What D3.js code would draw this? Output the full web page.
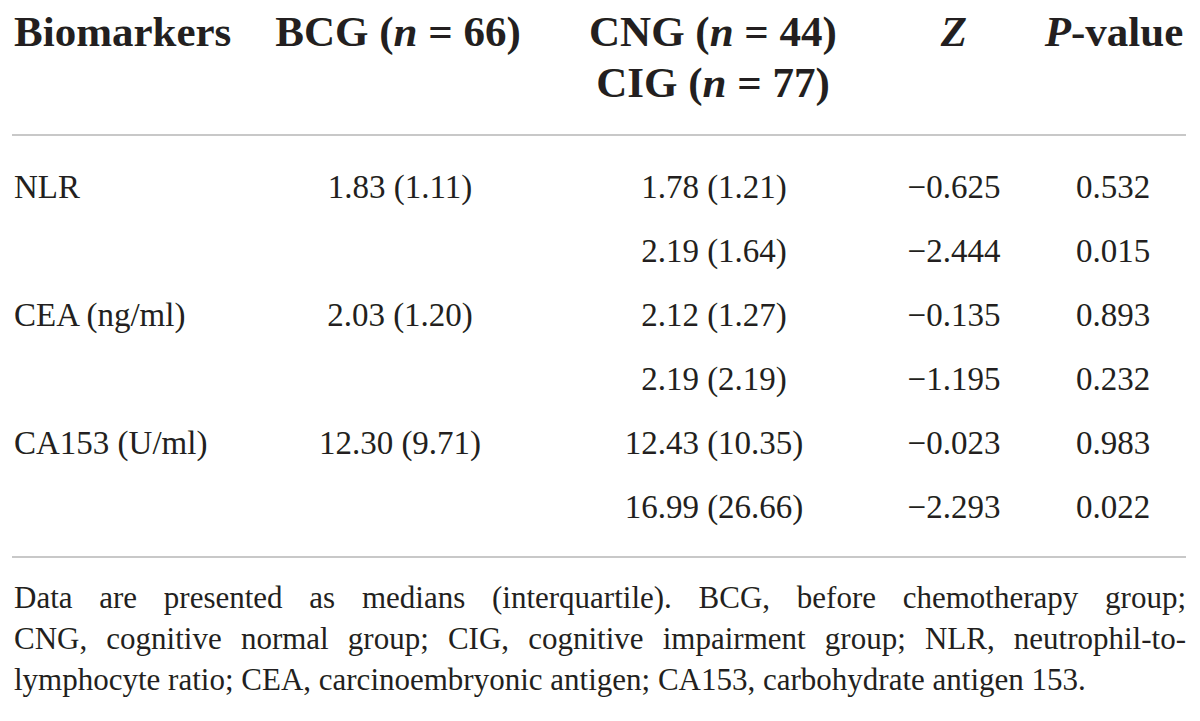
<!DOCTYPE html>
<html><head><meta charset="utf-8">
<script src="https://cdn.jsdelivr.net/npm/d3@7"></script>
<style>
html,body{margin:0;padding:0;background:#fff;}
svg{display:block;}
</style></head>
<body>
<svg id="chart" width="1200" height="721"></svg>
<script>
// ---- data ----
const biomarkers = ["NLR", "CEA (ng/ml)", "CA153 (U/ml)"];
const bcgValues = ["1.83 (1.11)", "2.03 (1.20)", "12.30 (9.71)"];
const groupValues = ["1.78 (1.21)", "2.19 (1.64)", "2.12 (1.27)", "2.19 (2.19)", "12.43 (10.35)", "16.99 (26.66)"];
const zValues = ["\u22120.625", "\u22122.444", "\u22120.135", "\u22121.195", "\u22120.023", "\u22122.293"];
const pValues = ["0.532", "0.015", "0.893", "0.232", "0.983", "0.022"];
const footnote = [
  "Data are presented as medians (interquartile). BCG, before chemotherapy group;",
  "CNG, cognitive normal group; CIG, cognitive impairment group; NLR, neutrophil-to-",
  "lymphocyte ratio; CEA, carcinoembryonic antigen; CA153, carbohydrate antigen 153."
];

const svg = d3.select("#chart");
const FONT = "'Liberation Serif', 'DejaVu Serif', serif";
const ink = "#231f20";
const ruleColor = "#c8c8c8";

const left = 14, right = 1186;
const colX = d3.scaleOrdinal().domain(["bio","bcg","grp","z","p"]).range([left, 400, 714, 954, 1113]);
const rowY = d3.scaleLinear().domain([0, 5]).range([198, 518]);

// header
const hdr = svg.append("g").attr("font-family", FONT).attr("font-weight", "bold").attr("font-size", 43).attr("fill", ink);
hdr.append("text").attr("x", colX("bio")).attr("y", 46).text("Biomarkers");
function nHeader(x, y, label, n, anchor) {
  const t = hdr.append("text").attr("x", x).attr("y", y).attr("text-anchor", anchor || "middle");
  t.append("tspan").text(label + " (");
  t.append("tspan").attr("font-style", "italic").text("n");
  t.append("tspan").text(" = " + n + ")");
}
nHeader(398, 46, "BCG", 66);
nHeader(colX("grp") - 1, 46, "CNG", 44);
nHeader(colX("grp") - 1, 97, "CIG", 77);
hdr.append("text").attr("x", colX("z")).attr("y", 46).attr("text-anchor", "middle").attr("font-style", "italic").text("Z");
const ph = hdr.append("text").attr("x", 1114).attr("y", 46).attr("text-anchor", "middle");
ph.append("tspan").attr("font-style", "italic").text("P");
ph.append("tspan").text("-value");

// rules
svg.append("line").attr("x1", left - 2).attr("x2", right).attr("y1", 135).attr("y2", 135).attr("stroke", ruleColor).attr("stroke-width", 2);
svg.append("line").attr("x1", left - 2).attr("x2", right).attr("y1", 557).attr("y2", 557).attr("stroke", ruleColor).attr("stroke-width", 2);

// body
const body = svg.append("g").attr("font-family", FONT).attr("font-size", 33).attr("fill", ink);
body.selectAll(".bio").data(biomarkers).join("text").attr("class", "bio")
  .attr("x", colX("bio")).attr("y", (d, i) => rowY(i * 2)).text(d => d);
body.selectAll(".bcg").data(bcgValues).join("text").attr("class", "bcg")
  .attr("x", colX("bcg")).attr("y", (d, i) => rowY(i * 2)).attr("text-anchor", "middle").text(d => d);
body.selectAll(".grp").data(groupValues).join("text").attr("class", "grp")
  .attr("x", colX("grp")).attr("y", (d, i) => rowY(i)).attr("text-anchor", "middle").text(d => d);
body.selectAll(".zv").data(zValues).join("text").attr("class", "zv")
  .attr("x", colX("z")).attr("y", (d, i) => rowY(i)).attr("text-anchor", "middle").text(d => d);
body.selectAll(".pv").data(pValues).join("text").attr("class", "pv")
  .attr("x", colX("p")).attr("y", (d, i) => rowY(i)).attr("text-anchor", "middle").text(d => d);

// footnote (justified first two lines)
const foot = svg.append("g").attr("font-family", FONT).attr("font-size", 31).attr("fill", ink);
const footY = d3.scaleLinear().domain([0, 2]).range([608, 690]);
footnote.forEach((line, li) => {
  const y = footY(li);
  if (li === footnote.length - 1) {
    foot.append("text").attr("x", left).attr("y", y).text(line);
    return;
  }
  const words = line.split(" ");
  const tmp = foot.append("text").attr("x", 0).attr("y", -100);
  const widths = words.map(w => { tmp.text(w); return tmp.node().getComputedTextLength(); });
  tmp.remove();
  const total = d3.sum(widths);
  const gap = (right - left - total) / (words.length - 1);
  let x = left;
  words.forEach((w, wi) => {
    foot.append("text").attr("x", x).attr("y", y).text(w);
    x += widths[wi] + gap;
  });
});
</script>
</body></html>
